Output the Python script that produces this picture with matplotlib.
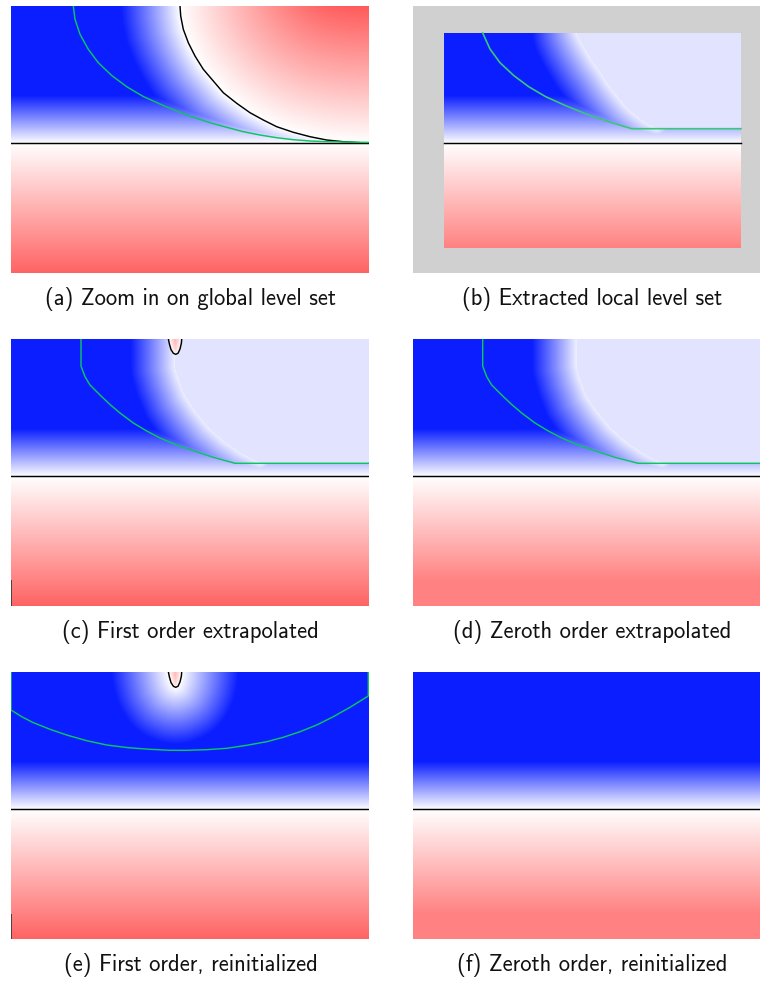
from matplotlib import pyplot as plt
from matplotlib.colors import LinearSegmentedColormap, TwoSlopeNorm
from matplotlib.path import Path
import numpy as np

W, H = 760, 981

# panel boxes in picture pixels: x0, x1, y0, y1
box_a = (11, 369, 6, 273)
box_b = (413, 760, 6, 273)
box_b_inner = (444, 741, 33, 248)
box_c = (11, 369, 339, 606)
box_d = (413, 760, 339, 606)
box_e = (11, 369, 672, 939)
box_f = (413, 760, 672, 939)

captions = [
    "(a) Zoom in on global level set",
    "(b) Extracted local level set",
    "(c) First order extrapolated",
    "(d) Zeroth order extrapolated",
    "(e) First order, reinitialized",
    "(f) Zeroth order, reinitialized",
]
caption_x = [190.5, 591.8, 190.5, 591.8, 190.5, 591.8]
caption_y = [298.8, 298.8, 631.8, 631.8, 964.8, 964.8]

line_a = 143.2
line_c = 476.5
line_e = 809.3

# zero level set
black_x = [180, 180.7, 183.3, 188.3, 195, 203.3, 213.3, 223.3, 236.7, 250, 263.3,
           276.7, 293.3, 310, 326.7, 343.3, 356.7, 369]
black_y = [6, 16, 29.3, 42.7, 56, 69.3, 81, 92.7, 103.3, 112.7, 120,
           126.7, 132.3, 136.7, 140, 141.7, 142.5, 143.2]

green_a_x = [73.3, 75, 80, 88.3, 98.3, 111.7, 126.7, 143.3, 163.3, 186.7, 210, 226.7,
             243.3, 260, 276.7, 293.3, 310, 326.7, 343.3, 369]
green_a_y = [6, 19.3, 34.3, 49.3, 62.7, 75.5, 86.7, 96.5, 105.5, 115, 122.7, 127.3,
             131.7, 135, 137.7, 139.7, 141, 141.7, 142, 142.4]

green_b_x = [482.7, 490, 500, 513.7, 528.7, 545.3, 565.3, 588.7, 612, 631.7, 741]
green_b_y = [33, 49, 62.7, 75.5, 86.7, 96.5, 105.5, 115, 122.7, 128.7, 128.7]
ridge_b_x = [576.7, 581, 586.7, 593, 600, 608, 616.7, 625, 633, 644, 656.7]
ridge_b_y = [33, 42, 51.7, 62, 71.7, 84, 95.5, 105.5, 113, 121.5, 128.7]

green_c_x = [81, 81, 85, 90, 100, 110, 120, 133.3, 146.7, 160, 176.7, 193.3, 213.3, 235, 369]
green_c_y = [339, 366, 376.7, 385, 395, 404.5, 413, 423, 431, 438, 445, 450.7, 457.3,
             463.3, 463.3]
ridge_c_x = [175, 175, 178.3, 185, 195, 208.3, 223.3, 240, 260]
ridge_c_y = [339, 367.3, 379, 395.7, 410.7, 427.3, 440.7, 452.3, 463.3]

green_d_x = [482.7, 482.7, 486.7, 491.7, 501.7, 511.7, 521.7, 535, 548.3, 561.7, 578.3,
             595, 615, 638, 760]
green_d_y = [339, 366, 376.7, 385, 395, 404.5, 413, 423, 431, 438, 445, 450.7, 457.3,
             463.3, 463.3]
ridge_d_x = [576.5, 576.5, 580, 586.5, 596.5, 610, 625, 641.5, 662]
ridge_d_y = [339, 366, 379, 395.7, 410.7, 427.3, 440.7, 452.3, 463.3]

green_e_x = [11, 11, 21.7, 33, 50, 66.7, 86.7, 106.7, 128.3, 150, 170, 186.7, 206.7,
             226.7, 246.7, 266.7, 283.3, 300, 316.7, 333.3, 350, 368.3, 368.3]
green_e_y = [672, 710, 716.7, 722.5, 729.3, 735, 740.7, 745, 747.7, 749.3, 750.3, 750.3,
             749.7, 748.3, 745.3, 741.7, 737.3, 731.7, 725, 716.7, 707.3, 696, 672]

# little droplet at the top of (c) and (e), offsets from its tip
drop_dx = [-7.3, -6.3, -4.7, -2.3, 0, 2.3, 4.3, 5.7, 6]
drop_dy = [-15.3, -10.3, -4.7, -1, 0, -1, -5.3, -11.3, -15.3]
drop_c = (175.7, 354.3)
drop_e = (175.7, 687.3)

blue_depth = 48
x_stretch = 1.23  # panel (a) is wider than tall in level set units
halo_depth = 57
ridge_gap = 3.5
light_value = -5.9
red_clamp = 104

cmap = LinearSegmentedColormap.from_list(
    "levelset", [(10 / 255, 30 / 255, 1), (1, 1, 1), (1, 0, 0)], N=1024
)
norm = TwoSlopeNorm(vmin=-blue_depth, vcenter=0, vmax=212)

green_col = "#0cc462"


def grid(box):
    x0, x1, y0, y1 = box
    return np.meshgrid(np.arange(x0, x1) + 0.5, np.arange(y0, y1) + 0.5)


def poly_dist(X, Y, px, py):
    # distance of every grid node to a traced polyline
    out = np.full(X.shape, np.inf)
    for i in range(len(px) - 1):
        dx, dy = px[i + 1] - px[i], py[i + 1] - py[i]
        t = ((X - px[i]) * dx + (Y - py[i]) * dy) / (dx ** 2 + dy ** 2)
        t = np.clip(t, 0, 1)
        out = np.minimum(out, np.hypot(X - px[i] - t * dx, Y - py[i] - t * dy))
    return out


def inside(X, Y, px, py):
    path = Path(np.column_stack([px, py]))
    pts = np.column_stack([X.ravel(), Y.ravel()])
    return path.contains_points(pts).reshape(X.shape)


def drop_xy(tip):
    return [tip[0] + d for d in drop_dx], [tip[1] + d for d in drop_dy]


def put_drop(phi, X, Y, tip):
    px, py = drop_xy(tip)
    mask = inside(X, Y, px + [px[0]], py + [py[0]])
    d = poly_dist(X, Y, px, py)
    phi[mask] = d[mask] * 9
    return phi


def field_a():
    X, Y = grid(box_a)
    line_d = np.abs(Y - line_a)
    d_out = np.minimum(poly_dist(X, Y, black_x, black_y), line_d)
    sx = [v / x_stretch for v in black_x]
    d_in = np.minimum(poly_dist(X / x_stretch, Y, sx, black_y), line_d)
    blue = inside(
        X, Y, black_x + [box_a[0], box_a[0]], black_y + [line_a, box_a[2]]
    )
    return np.where(blue, -d_in, d_out)


def field_local(box, line, ridge_x, ridge_y, green_end, clamp=True):
    X, Y = grid(box)
    d = np.minimum(poly_dist(X, Y, ridge_x, ridge_y) + ridge_gap, np.abs(Y - line))
    phi = np.where(Y < line, -d, Y - line)
    if clamp:
        phi = np.minimum(phi, red_clamp)
    light = inside(
        X,
        Y,
        ridge_x + [box[1] + 1, box[1] + 1],
        ridge_y + [green_end, box[2] - 1],
    )
    phi[light] = light_value
    return phi, X, Y


def field_flat(box, line, clamp):
    X, Y = grid(box)
    phi = np.where(Y < line, -np.abs(Y - line), Y - line)
    if clamp:
        phi = np.minimum(phi, red_clamp)
    return phi, X, Y


def show(ax, phi, box):
    ax.imshow(
        phi,
        cmap=cmap,
        norm=norm,
        extent=(box[0], box[1], box[3], box[2]),
        interpolation="bilinear",
        aspect="auto",
        zorder=1,
    )


def make_axes(fig, box):
    x0, x1, y0, y1 = box
    ax = fig.add_axes([x0 / W, 1 - y1 / H, (x1 - x0) / W, (y1 - y0) / H])
    ax.set_axis_off()
    return ax


def finish(ax, box):
    ax.set_xlim(box[0], box[1])
    ax.set_ylim(box[3], box[2])


fig = plt.figure(figsize=(W / 100, H / 100), dpi=100)

# (a)
ax = make_axes(fig, box_a)
show(ax, field_a(), box_a)
ax.plot(black_x, black_y, color="k", lw=1.05, zorder=3)
ax.plot(box_a[:2], [line_a, line_a], color="k", lw=1.05, zorder=3)
ax.plot(green_a_x, green_a_y, color=green_col, lw=1.05, zorder=4)
finish(ax, box_a)

# (b)
ax = make_axes(fig, box_b)
ax.set_axis_on()
ax.set_xticks([])
ax.set_yticks([])
for s in ax.spines.values():
    s.set_visible(False)
ax.set_facecolor("#d0d0d0")
phi, X, Y = field_local(box_b_inner, line_a, ridge_b_x, ridge_b_y, 128.7)
show(ax, phi, box_b_inner)
ax.plot(box_b_inner[:2], [line_a, line_a], color="k", lw=1.05, zorder=3)
ax.plot(green_b_x, green_b_y, color="#38c878", lw=1.2, zorder=4)
finish(ax, box_b)

# (c)
ax = make_axes(fig, box_c)
phi, X, Y = field_local(box_c, line_c, ridge_c_x, ridge_c_y, 463.3, clamp=False)
phi = put_drop(phi, X, Y, drop_c)
show(ax, phi, box_c)
ax.plot(box_c[:2], [line_c, line_c], color="k", lw=1.05, zorder=3)
ax.plot(green_c_x, green_c_y, color=green_col, lw=1.05, zorder=4)
ax.plot(*drop_xy(drop_c), color="k", lw=1.05, zorder=4)
ax.plot([11.3, 11.3], [580, 606], color="#444444", lw=0.7, zorder=4)
finish(ax, box_c)

# (d)
ax = make_axes(fig, box_d)
phi, X, Y = field_local(box_d, line_c, ridge_d_x, ridge_d_y, 463.3)
show(ax, phi, box_d)
ax.plot(box_d[:2], [line_c, line_c], color="k", lw=1.05, zorder=3)
ax.plot(green_d_x, green_d_y, color=green_col, lw=1.05, zorder=4)
finish(ax, box_d)

# (e)
ax = make_axes(fig, box_e)
phi, X, Y = field_flat(box_e, line_e, False)
halo = poly_dist(X, Y, *drop_xy(drop_e)) * blue_depth / halo_depth
phi = np.where(Y < line_e, np.maximum(phi, -halo), phi)
phi = put_drop(phi, X, Y, drop_e)
show(ax, phi, box_e)
ax.plot(box_e[:2], [line_e, line_e], color="k", lw=1.05, zorder=3)
ax.plot(green_e_x, green_e_y, color=green_col, lw=1.05, zorder=4)
ax.plot(*drop_xy(drop_e), color="k", lw=1.05, zorder=4)
ax.plot([11.3, 11.3], [914, 939], color="#444444", lw=0.7, zorder=4)
finish(ax, box_e)

# (f)
ax = make_axes(fig, box_f)
phi, X, Y = field_flat(box_f, line_e, True)
show(ax, phi, box_f)
ax.plot(box_f[:2], [line_e, line_e], color="k", lw=1.05, zorder=3)
finish(ax, box_f)

for label, cx, cy in zip(captions, caption_x, caption_y):
    fig.text(
        cx / W,
        1 - cy / H,
        label,
        ha="center",
        va="center",
        fontsize=16.3,
        family="cmss10",
        color="#111111",
    )

fig.savefig("out.png", dpi=100)
